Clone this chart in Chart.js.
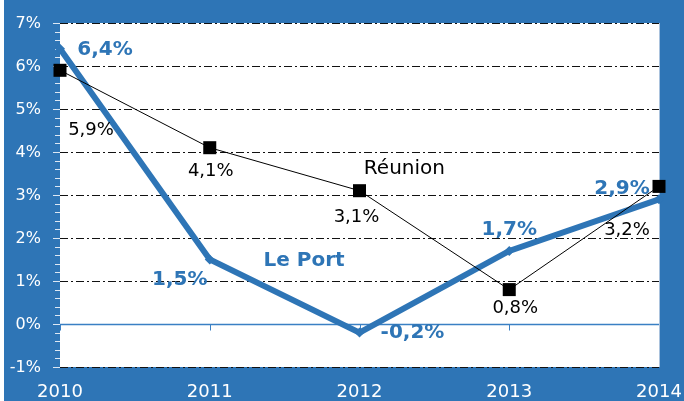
<!DOCTYPE html>
<html>
<head>
<meta charset="utf-8">
<script src="https://cdn.jsdelivr.net/npm/chart.js@4/dist/chart.umd.min.js"></script>
<style>
  html, body { margin: 0; padding: 0; background: #ffffff; }
  #c { display: block; }
</style>
</head>
<body>
<canvas id="c" width="684" height="401"></canvas>
<script>
// Annual growth (%) — Le Port vs Réunion
const years = ['2010', '2011', '2012', '2013', '2014'];
const lePort = [6.4, 1.5, -0.2, 1.7, 2.9];
const reunion = [5.9, 4.1, 3.1, 0.8, 3.2];
const seriesNames = ['Le Port', 'Réunion'];
const yTickValues = [-1, 0, 1, 2, 3, 4, 5, 6, 7];
const yMin = -1;
const yMax = 7;

const BLUE = '#2e75b6';
const FONT = '"DejaVu Sans", sans-serif';

const fmt = v => v.toFixed(1).replace('.', ',') + '%';

// Frame, plot background, gridlines, tick marks and axis labels
const framePlugin = {
  id: 'frame',
  beforeDraw(chart) {
    const { ctx, chartArea: a, width, height } = chart;
    ctx.save();
    ctx.fillStyle = '#ffffff';
    ctx.fillRect(0, 0, width, height);
    ctx.fillStyle = BLUE;
    ctx.fillRect(4, 0, width - 4, height);
    ctx.fillStyle = '#ffffff';
    ctx.fillRect(a.left, a.top, a.right - a.left, a.bottom - a.top);
    ctx.restore();
  },
  beforeDatasetsDraw(chart) {
    const { ctx, chartArea: a, scales } = chart;
    const y = scales.y, x = scales.x;
    ctx.save();
    // dash-dot gridlines at every whole percent
    yTickValues.forEach(v => {
      if (v === 0) return;
      const py = Math.round(y.getPixelForValue(v)) + 0.5;
      ctx.strokeStyle = '#111111';
      ctx.lineWidth = 1;
      ctx.setLineDash([8, 3, 2, 3]);
      ctx.beginPath();
      ctx.moveTo(a.left, py);
      ctx.lineTo(a.right, py);
      ctx.stroke();
    });
    ctx.setLineDash([]);
    // zero line
    const y0 = Math.round(y.getPixelForValue(0)) + 0.5;
    ctx.strokeStyle = '#3a80c4';
    ctx.lineWidth = 1.5;
    ctx.beginPath();
    ctx.moveTo(a.left, y0);
    ctx.lineTo(a.right, y0);
    ctx.stroke();
    // category ticks below the zero line
    ctx.lineWidth = 1;
    years.forEach((_, i) => {
      const px = Math.round(x.getPixelForValue(i)) + 0.5;
      ctx.beginPath();
      ctx.moveTo(px, y0);
      ctx.lineTo(px, y0 + 6);
      ctx.stroke();
    });
    // right border of the plot
    ctx.strokeStyle = '#a9c2dd';
    ctx.beginPath();
    ctx.moveTo(a.right + 0.5, a.top);
    ctx.lineTo(a.right + 0.5, a.bottom);
    ctx.stroke();
    // y-axis major and minor ticks
    ctx.strokeStyle = '#dde8f4';
    for (let k = yMin * 5; k <= yMax * 5; k++) {
      const py = Math.round(y.getPixelForValue(k / 5)) + 0.5;
      const len = (k % 5 === 0) ? 7 : 5;
      ctx.beginPath();
      ctx.moveTo(a.left - len, py);
      ctx.lineTo(a.left, py);
      ctx.stroke();
    }
    // axis labels
    ctx.fillStyle = '#ffffff';
    ctx.textBaseline = 'middle';
    ctx.textAlign = 'right';
    ctx.font = '16px ' + FONT;
    yTickValues.forEach(v => {
      ctx.fillText(v + '%', a.left - 19, y.getPixelForValue(v) + 1);
    });
    ctx.textAlign = 'center';
    ctx.font = '18px ' + FONT;
    years.forEach((lab, i) => {
      ctx.fillText(lab, x.getPixelForValue(i), a.bottom + 25);
    });
    ctx.restore();
  }
};

// Value labels and series names
const labelPlugin = {
  id: 'valueLabels',
  afterDatasetsDraw(chart) {
    const { ctx, scales } = chart;
    ctx.save();
    ctx.textAlign = 'center';
    ctx.textBaseline = 'middle';

    const portOffsets = [[45, 1], [-30, 20], [53, 0], [0, -21], [-37, -11]];
    const reuOffsets = [[31, 60], [1, 24], [-3, 27], [6, 19], [-32, 44]];

    const portMeta = chart.getDatasetMeta(0);
    ctx.fillStyle = BLUE;
    ctx.font = 'bold 20px ' + FONT;
    portMeta.data.forEach((pt, i) => {
      ctx.fillText(fmt(lePort[i]), pt.x + portOffsets[i][0], pt.y + portOffsets[i][1]);
    });

    const reuMeta = chart.getDatasetMeta(1);
    ctx.fillStyle = '#000000';
    ctx.font = '18px ' + FONT;
    reuMeta.data.forEach((pt, i) => {
      ctx.fillText(fmt(reunion[i]), pt.x + reuOffsets[i][0], pt.y + reuOffsets[i][1]);
    });

    // series names, placed in data space
    ctx.fillStyle = BLUE;
    ctx.font = 'bold 20px ' + FONT;
    ctx.fillText(seriesNames[0], scales.x.getPixelForValue(1.63), scales.y.getPixelForValue(1.47));
    ctx.fillStyle = '#000000';
    ctx.font = '20px ' + FONT;
    ctx.fillText(seriesNames[1], scales.x.getPixelForValue(2.30), scales.y.getPixelForValue(3.62));
    ctx.restore();
  }
};

new Chart(document.getElementById('c'), {
  type: 'line',
  data: {
    labels: years,
    datasets: [
      {
        label: seriesNames[0],
        data: lePort,
        borderColor: BLUE,
        backgroundColor: BLUE,
        borderWidth: 6,
        pointStyle: 'rectRot',
        pointRadius: 5,
        pointBorderWidth: 0,
        tension: 0,
        clip: false,
        order: 1
      },
      {
        label: seriesNames[1],
        data: reunion,
        borderColor: '#000000',
        backgroundColor: '#000000',
        borderWidth: 1,
        pointStyle: 'rect',
        pointRadius: 9.2,
        pointBorderWidth: 0,
        tension: 0,
        clip: false,
        order: 0
      }
    ]
  },
  options: {
    responsive: false,
    animation: false,
    events: [],
    layout: { padding: { left: 0, right: 25, top: 23, bottom: 0 } },
    plugins: { legend: { display: false }, tooltip: { enabled: false } },
    scales: {
      x: {
        offset: false,
        grid: { display: false, drawTicks: false },
        border: { display: false },
        ticks: { display: false },
        afterFit(scale) { scale.height = 34; }
      },
      y: {
        min: yMin,
        max: yMax,
        grid: { display: false, drawTicks: false },
        border: { display: false },
        ticks: { display: false, stepSize: 1 },
        afterFit(scale) { scale.width = 60; }
      }
    }
  },
  plugins: [framePlugin, labelPlugin]
});
</script>
</body>
</html>
